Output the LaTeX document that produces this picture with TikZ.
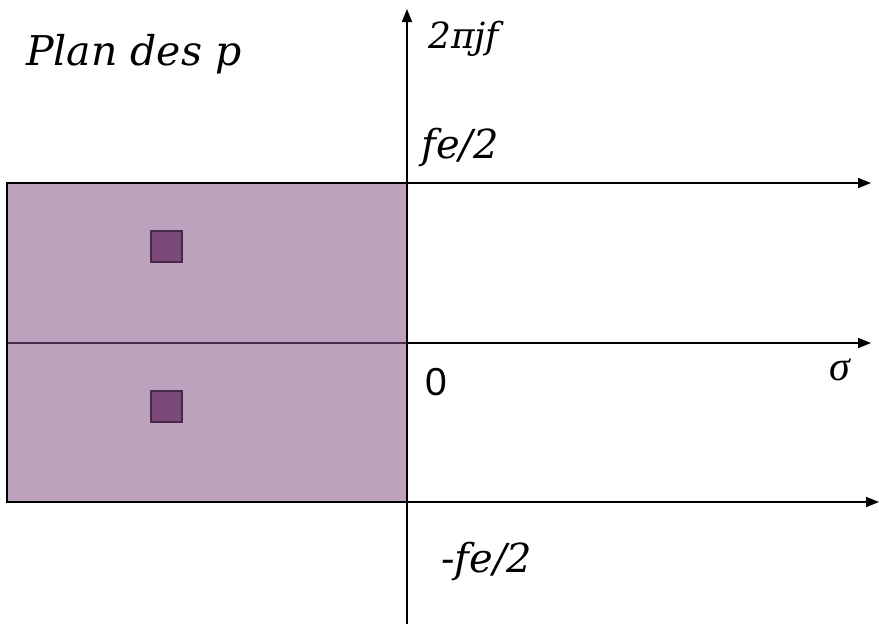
\documentclass[tikz,border=0pt]{standalone}
\usepackage{fontspec}
\setmainfont{DejaVu Serif}
\newfontfamily\zerofont{Liberation Sans}
\newfontfamily\greekfont{Liberation Serif}
\usetikzlibrary{arrows.meta}
\definecolor{zone}{HTML}{BCA2BC}
\definecolor{polefill}{HTML}{7B4A7B}
\definecolor{poleedge}{HTML}{4A2A4A}
\tikzset{
  axis/.style={line width=1.8pt, -{Triangle[length=13pt,width=10pt]}},
  pole/.style={draw=poleedge, fill=polefill, line width=1.4pt, minimum size=31pt, inner sep=0pt},
  lbl/.style={inner sep=0pt, anchor=base west},
}
\begin{document}
\begin{tikzpicture}[x=1pt,y=-1pt]
\useasboundingbox (0,0) rectangle (879,629);
% stable half-band
\fill[zone] (7,183) rectangle (407,502);
\draw[poleedge, line width=1.8pt] (7,343) -- (407,343);
\draw[line width=1.8pt] (407,183) -- (7,183) -- (7,502) -- (407,502);
% axes
\coordinate (vb) at (407,624);
\coordinate (vt) at (407,9);
\coordinate (h1a) at (407,183);
\coordinate (h1b) at (871,183);
\coordinate (h0a) at (407,343);
\coordinate (h0b) at (871,343);
\coordinate (h2a) at (407,502);
\coordinate (h2b) at (879,502);
\draw[axis] (vb) -- (vt);
\draw[axis] (h1a) -- (h1b);
\draw[axis] (h0a) -- (h0b);
\draw[axis] (h2a) -- (h2b);
% poles
\node[pole] (p1) at (166.5,246.5) {};
\node[pole] (p2) at (166.5,406.5) {};
% labels
\node[lbl] (title) at (26,65) {\fontsize{41}{46}\selectfont\itshape Plan des p};
\node[lbl] (im) at (428,48) {\fontsize{36}{42}\selectfont\itshape 2πjf};
\node[lbl] (fp) at (421,158) {\fontsize{40}{46}\selectfont\itshape fe/2};
\node[lbl] (zero) at (425,395) {\zerofont\fontsize{39}{44}\selectfont 0};
\node[lbl] (sig) at (829,380) {\greekfont\fontsize{42}{46}\selectfont\itshape σ};
\node[lbl] (fm) at (441,572) {\fontsize{40}{46}\selectfont\itshape -fe/2};
\end{tikzpicture}
\end{document}
